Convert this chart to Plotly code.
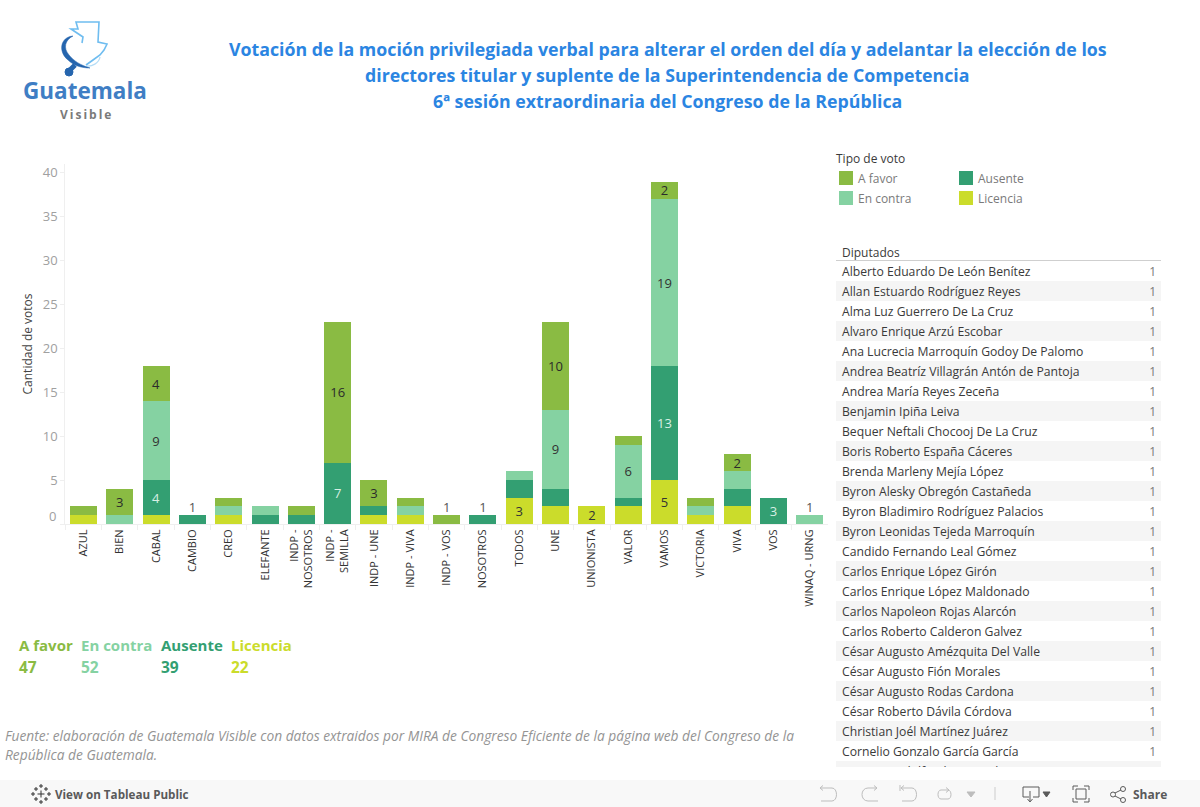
import re
import plotly.graph_objects as go

W, H = 1200, 807
FONT = "Open Sans"

partidos = ["AZUL", "BIEN", "CABAL", "CAMBIO", "CREO", "ELEFANTE", "INDP -<br>NOSOTROS", "INDP -<br>SEMILLA",
            "INDP - UNE", "INDP - VIVA", "INDP - VOS", "NOSOTROS", "TODOS", "UNE", "UNIONISTA", "VALOR",
            "VAMOS", "VICTORIA", "VIVA", "VOS", "WINAQ - URNG"]
licencia = [1, 0, 1, 0, 1, 0, 0, 0, 1, 1, 0, 0, 3, 2, 2, 2, 5, 1, 2, 0, 0]
ausente = [0, 0, 4, 1, 0, 1, 1, 7, 1, 0, 0, 1, 2, 2, 0, 1, 13, 0, 2, 3, 0]
en_contra = [0, 1, 9, 0, 1, 1, 0, 0, 0, 1, 0, 0, 1, 9, 0, 6, 19, 1, 2, 0, 1]
a_favor = [1, 3, 4, 0, 1, 0, 1, 16, 3, 1, 1, 0, 0, 10, 0, 1, 2, 1, 2, 0, 0]

et_licencia = ["", "", "", "", "", "", "", "", "", "", "", "", "3", "", "2", "", "5", "", "", "", ""]
et_ausente = ["", "", "4", "", "", "", "", "7", "", "", "", "", "", "", "", "", "13", "", "", "3", ""]
et_contra = ["", "", "9", "", "", "", "", "", "", "", "", "", "", "9", "", "6", "19", "", "", "", ""]
et_favor = ["", "3", "4", "", "", "", "", "16", "3", "", "", "", "", "10", "", "", "2", "", "2", "", ""]
et_fuera = ["", "", "", "1", "", "", "", "", "", "", "1", "1", "", "", "", "", "", "", "", "", "1"]

diputados = ["Alberto Eduardo De León Benítez", "Allan Estuardo Rodríguez Reyes", "Alma Luz Guerrero De La Cruz",
             "Alvaro Enrique Arzú Escobar", "Ana Lucrecia Marroquín Godoy De Palomo",
             "Andrea Beatríz Villagrán Antón de Pantoja", "Andrea María Reyes Zeceña", "Benjamin Ipiña Leiva",
             "Bequer Neftali Chocooj De La Cruz", "Boris Roberto España Cáceres", "Brenda Marleny Mejía López",
             "Byron Alesky Obregón Castañeda", "Byron Bladimiro Rodríguez Palacios", "Byron Leonidas Tejeda Marroquín",
             "Candido Fernando Leal Gómez", "Carlos Enrique López Girón", "Carlos Enrique López Maldonado",
             "Carlos Napoleon Rojas Alarcón", "Carlos Roberto Calderon Galvez", "César Augusto Amézquita Del Valle",
             "César Augusto Fión Morales", "César Augusto Rodas Cardona", "César Roberto Dávila Córdova",
             "Christian Joél Martínez Juárez", "Cornelio Gonzalo García García", "Cristian Rodolfo Alonzo Y Alonzo"]
votos_dip = [1, 1, 1, 1, 1, 1, 1, 1, 1, 1, 1, 1, 1, 1, 1, 1, 1, 1, 1, 1, 1, 1, 1, 1, 1, 1]

C_FAVOR, C_CONTRA, C_AUS, C_LIC = "#8ABB43", "#85D2A2", "#339F72", "#CBDC2B"


def fx(x):
    return x / W


def fy(y):
    return 1 - y / H


def path(d):
    i = [0]

    def sub(m):
        v = float(m.group(0))
        r = fx(v) if i[0] % 2 == 0 else fy(v)
        i[0] += 1
        return f"{r:.5f}"
    return re.sub(r"-?\d+\.?\d*", sub, d)


fig = go.Figure()

series = [("Licencia", licencia, et_licencia, C_LIC, "#333333"),
          ("Ausente", ausente, et_ausente, C_AUS, "#D8EFE4"),
          ("En contra", en_contra, et_contra, C_CONTRA, "#333333"),
          ("A favor", a_favor, et_favor, C_FAVOR, "#2B2B2B")]
for nombre, vals, et, col, tcol in series:
    fig.add_trace(go.Bar(name=nombre, x=partidos, y=vals, marker=dict(color=col, line=dict(width=0)),
                         text=et, textposition="inside", insidetextanchor="middle", textangle=0,
                         constraintext="none", textfont=dict(family=FONT, size=13, color=tcol),
                         xaxis="x", yaxis="y"))

totales = [a + b + c + d for a, b, c, d in zip(licencia, ausente, en_contra, a_favor)]
fig.add_trace(go.Scatter(x=partidos, y=totales, mode="text", text=et_fuera, textposition="top center",
                         textfont=dict(family=FONT, size=13, color="#555555"), cliponaxis=False,
                         xaxis="x", yaxis="y"))

filas = list(range(len(diputados)))
pares = filas[1::2]
ajuste = 0.08  # optical centring of the text inside each row
filas_txt = [f + ajuste for f in filas]
X2_MIN, X2_MAX = -6 / 314, 1 + 5 / 314
fig.add_trace(go.Bar(y=pares, x=[X2_MAX - X2_MIN] * len(pares), base=X2_MIN, orientation="h", width=1,
                     marker=dict(color="#F5F5F5", line=dict(width=0)), xaxis="x2", yaxis="y2"))
fig.add_trace(go.Scatter(x=[0] * len(filas), y=filas_txt, mode="text", text=diputados, textposition="middle right",
                         textfont=dict(family=FONT, size=12.2, color="#3A3A3A"), xaxis="x2", yaxis="y2"))
fig.add_trace(go.Scatter(x=[1] * len(filas), y=filas_txt, mode="text", text=[str(v) for v in votos_dip],
                         textposition="middle left",
                         textfont=dict(family=FONT, size=12, color="#7A7A7A"), xaxis="x2", yaxis="y2"))

ann = []


def note(text, x, y, size=12, color="#444444", anchor="left", **kw):
    if anchor == "left":
        x -= 1
    ann.append(dict(text=text, x=fx(x), y=fy(y), xref="paper", yref="paper", showarrow=False, xanchor=anchor,
                    yanchor="middle", align=anchor, borderpad=0, font=dict(family=kw.pop("family", FONT), size=size, color=color), **kw))


TITLE = "#2B85E2"
note("<b>Votación de la moción privilegiada verbal para alterar el orden del día y adelantar la elección de los</b>", 667.5, 49, 17.75, TITLE, "center")
note("<b>directores titular y suplente de la Superintendencia de Competencia</b>", 667, 75, 17.75, TITLE, "center")
note("<b>6ª sesión extraordinaria del Congreso de la República</b>", 667, 101, 17.75, TITLE, "center")

note("<b>Guatemala</b>", 85.5, 91, 22.5, "#3F7EC4", "center", family="Open Sans")
note("<b>V\u2009i\u2009s\u2009i\u2009b\u2009l\u2009e</b>", 85, 114.5, 12, "#7A7A7A", "center")

note("Tipo de voto", 836, 158, 12, "#3A3A3A")
note("A favor", 858, 178.5, 12, "#7A7A7A")
note("En contra", 858, 198, 12, "#7A7A7A")
note("Ausente", 978, 178.5, 12, "#7A7A7A")
note("Licencia", 978, 198, 12, "#7A7A7A")
note("Diputados", 842, 252, 12, "#3A3A3A")

for nombre, vals, col, x in [("A favor", a_favor, C_FAVOR, 19), ("En contra", en_contra, C_CONTRA, 81),
                             ("Ausente", ausente, C_AUS, 161), ("Licencia", licencia, C_LIC, 231)]:
    note(f"<b>{nombre}</b>", x, 645, 15, col)
    note(f"<b>{sum(vals)}</b>", x, 667, 15.5, col)

note("<i>Fuente: elaboración de Guatemala Visible con datos extraidos por MIRA de Congreso Eficiente de la página web del Congreso de la</i>", 5, 735, 13.75, "#949494")
note("<i>República de Guatemala.</i>", 5, 754, 13.75, "#949494")

note("<b>View on Tableau Public</b>", 55, 794, 11.65, "#5A5A5A")
note("<b>Share</b>", 1133, 794, 12, "#5A5A5A")

# the zero label sits above the baseline in the reference
ann.append(dict(text="0", x=fx(58), xref="paper", y=0, yref="y", yshift=8, showarrow=False, xanchor="right",
                yanchor="middle", font=dict(family=FONT, size=13, color="#A0A0A0")))

shapes = []


def rect(x0, y0, x1, y1, fill, line=None, layer="above"):
    shapes.append(dict(type="rect", xref="paper", yref="paper", x0=fx(x0), x1=fx(x1), y0=fy(y0), y1=fy(y1),
                       fillcolor=fill, line=dict(width=1 if line else 0, color=line or fill), layer=layer))


def stroke(d, color, width=1.0, fill=None):
    s = dict(type="path", xref="paper", yref="paper", path=path(d), line=dict(color=color, width=width), layer="above")
    if fill:
        s["fillcolor"] = fill
    shapes.append(s)


def circle(cx, cy, r, color, fill=None, width=1.0):
    shapes.append(dict(type="circle", xref="paper", yref="paper", x0=fx(cx - r), x1=fx(cx + r), y0=fy(cy - r), y1=fy(cy + r),
                       line=dict(color=color, width=width), fillcolor=fill or "rgba(0,0,0,0)", layer="above"))


rect(839, 171, 853, 185, C_FAVOR)
rect(839, 191, 853, 205, C_CONTRA)
rect(959, 171, 973, 185, C_AUS)
rect(959, 191, 973, 205, C_LIC)
stroke("M 836 260.5 L 1161 260.5", "#CFCFCF", 1)

# logo
stroke("M 82 43 L 83 37 L 71 29 L 78 29 L 76 22 L 99 22 L 98 42 L 107 44 L 104 50 L 100 55 L 93 60 L 86 65", "#6FBDF0", 1.6)
stroke("M 86 66 C 92 67 99 63 100 57", "#B5DDF6", 1.3)
stroke("M 73 36 C 60 37 58 52 68 60 C 74 66 82 68 90 68 C 80 65 74 61 69 55 C 63 48 65 40 73 36 Z", "#2565AE", 0.5, "#2565AE")
stroke("M 69 71 L 75 65", "#2565AE", 5)
circle(69, 72, 4, "#2565AE", "#2565AE")

# toolbar
rect(0, 780, 1200, 807, "#F8F8F8", layer="below")
G = "#BDBDBD"
stroke("M 821 788 L 832 788 C 838 788 838 801 832 801 L 821 801", G)
stroke("M 823 785.5 L 820 788 L 823 790.5", G)
stroke("M 877 788 L 868 788 C 860 788 860 801 868 801 L 878 801", G)
stroke("M 874 785.5 L 877 788 L 874 790.5", G)
stroke("M 902 788 L 912 788 C 918 788 918 801 912 801 L 902 801", G)
stroke("M 904 785.5 L 901 788 L 904 790.5", G)
stroke("M 900 785 L 900 791", G)
stroke("M 941 790 L 948 790 C 952 790 952 799 948 799 L 941 799 C 937 799 937 790 941 790", G)
stroke("M 946 787.5 L 949 790 L 946 792.5", G)
stroke("M 967 792 L 975 792 L 971 797 Z", G, 1, G)
stroke("M 995 787 L 995 800", "#CCCCCC")
D = "#5A5A5A"
stroke("M 1029 797 L 1023 797 L 1023 787 L 1039 787 L 1039 797 L 1033 797", D)
stroke("M 1030 791 L 1030 801", D)
stroke("M 1027.5 799 L 1030 802 L 1032.5 799", D)
stroke("M 1043 792 L 1050 792 L 1046.5 797 Z", D, 1, D)
stroke("M 1073 790 L 1073 786 L 1078 786 M 1084 786 L 1089 786 L 1089 790 M 1089 798 L 1089 802 L 1084 802 M 1078 802 L 1073 802 L 1073 798", D)
stroke("M 1076 789 L 1086 789 L 1086 799 L 1076 799 Z", D)
circle(1113, 794.5, 2.5, D)
circle(1123, 789, 2.5, D)
circle(1123, 800, 2.5, D)
stroke("M 1115 793 L 1121 790 M 1115 796 L 1121 799", D)

for cx, cy, a in [(41, 794, 3.5), (33, 794, 2), (49, 794, 2), (41, 786, 2), (41, 802, 2), (36, 789, 2), (46, 789, 2), (36, 799, 2), (46, 799, 2)]:
    stroke(f"M {cx - a} {cy} L {cx + a} {cy} M {cx} {cy - a} L {cx} {cy + a}", "#333333", 1)

fig.update_layout(
    width=W, height=H, margin=dict(l=0, r=0, t=0, b=0, pad=0), autosize=False, showlegend=False,
    paper_bgcolor="white", plot_bgcolor="white", barmode="stack", bargap=0.256, hovermode=False,
    font=dict(family=FONT),
    xaxis=dict(domain=[fx(65.3), fx(827.9)], anchor="y", range=[-0.5, 20.5], type="category", categoryorder="array",
               categoryarray=partidos, tickangle=-90, tickson="boundaries", ticks="outside", ticklen=5, tickcolor="#EFEFEF",
               showgrid=False, showline=True, linecolor="#EFEFEF", zeroline=False,
               tickfont=dict(family=FONT, size=11, color="#333333"), fixedrange=True),
    yaxis=dict(domain=[fy(524), fy(164)], anchor="x", range=[0, 41], tickvals=[0, 5, 10, 15, 20, 25, 30, 35, 40],
               ticktext=["", "5", "10", "15", "20", "25", "30", "35", "40"], ticks="outside", ticklen=4, tickcolor="#EFEFEF",
               showgrid=False, showline=True, linecolor="#EFEFEF", zeroline=False,
               tickfont=dict(family=FONT, size=13, color="#A0A0A0"),
               title=dict(text="Cantidad de votos", font=dict(family=FONT, size=12, color="#444444"), standoff=7), fixedrange=True),
    xaxis2=dict(domain=[fx(836), fx(1161)], anchor="y2", range=[X2_MIN, X2_MAX], visible=False, fixedrange=True),
    yaxis2=dict(domain=[fy(767), fy(261)], anchor="x2", range=[24.8, -0.5], visible=False, fixedrange=True),
    annotations=ann, shapes=shapes,
)

fig.write_html("out.html", config={"displayModeBar": False},
               post_script="document.body.style.margin='0';document.body.style.overflow='hidden';")
